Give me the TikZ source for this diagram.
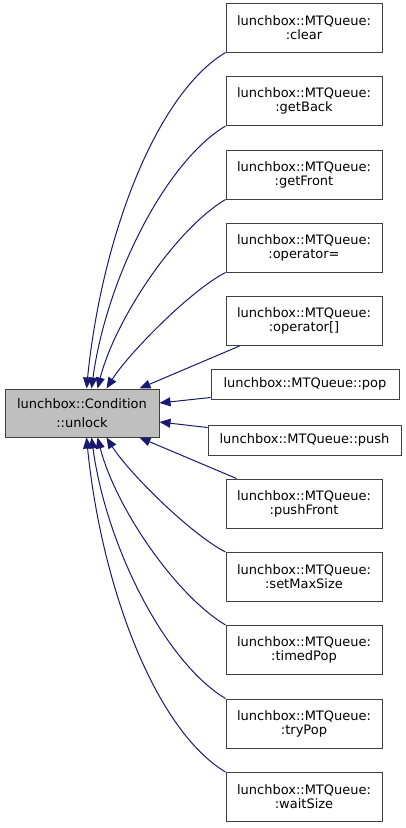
\documentclass[tikz,border=0pt]{standalone}
\usepackage{fontspec}
\setmainfont{DejaVu Sans}
\usetikzlibrary{arrows.meta}
\definecolor{EdgeBlue}{HTML}{191970}
\definecolor{NodeGray}{HTML}{BFBFBF}
\definecolor{LineGray}{HTML}{404040}

\begin{document}
\begin{tikzpicture}[x=1pt, y=1pt,
        fn/.style={draw=LineGray, line width=1pt, fill=white, align=center,
                   font=\fontsize{13}{14}\selectfont, inner sep=0pt,
                   minimum width=156pt, minimum height=49pt},
        fnone/.style={fn, minimum height=30pt},
        cur/.style={fn, fill=NodeGray, minimum width=154pt, minimum height=48pt,
                    font=\fontsize{13}{19}\selectfont},
        e/.style={EdgeBlue, line width=1pt, -{Triangle[length=11pt, width=9pt]}},
      ]
        \useasboundingbox (0,0) rectangle (405,-828);
        \node[cur] (cond) at (82,-413) {lunchbox::Condition\\::unlock};
        % callers
        \node[fn] (clear)   at (304,-27.5) {lunchbox::MTQueue:\\:clear};
        \node[fn] (getback) at (304,-101)  {lunchbox::MTQueue:\\:getBack};
        \node[fn] (getfront) at (304,-174.5) {lunchbox::MTQueue:\\:getFront};
        \node[fn] (opeq)    at (304,-247.5) {lunchbox::MTQueue:\\:operator=};
        \node[fn] (opidx)   at (304,-321)  {lunchbox::MTQueue:\\:operator[]};
        \node[fnone, minimum width=188pt] (pop)  at (305,-384)   {lunchbox::MTQueue::pop};
        \node[fnone, minimum width=193pt] (push) at (304.5,-440) {lunchbox::MTQueue::push};
        \node[fn] (pushfront) at (304,-503.5) {lunchbox::MTQueue:\\:pushFront};
        \node[fn] (setmax)  at (304,-577)  {lunchbox::MTQueue:\\:setMaxSize};
        \node[fn] (timedpop) at (304,-650) {lunchbox::MTQueue:\\:timedPop};
        \node[fn] (trypop)  at (304,-723.5) {lunchbox::MTQueue:\\:tryPop};
        \node[fn] (waitsize) at (304,-797) {lunchbox::MTQueue:\\:waitSize};
        % edges into the top
        \draw[e] (clear.south west) .. controls +(-70,-42) and +(15,150) .. ([xshift=82pt]cond.north west);
        \draw[e] (getback.south west) .. controls +(-60,-36) and +(15,110) .. ([xshift=87pt]cond.north west);
        \draw[e] (getfront.south west) .. controls +(-50,-30) and +(18,70) .. ([xshift=93pt]cond.north west);
        \draw[e] (opeq.south west) .. controls +(-35,-18) and +(22,35) .. ([xshift=102pt]cond.north west);
        \draw[e] ([xshift=14pt]opidx.south west) -- ([xshift=135pt]cond.north west);
        % edges into the side
        \draw[e] ([yshift=2pt]pop.south west) -- ([yshift=10pt]cond.east);
        \draw[e] ([yshift=-3pt]push.north west) -- ([yshift=-9pt]cond.east);
        % edges into the bottom
        \draw[e] ([xshift=11pt]pushfront.north west) -- ([xshift=135pt]cond.south west);
        \draw[e] (setmax.north west) .. controls +(-35,18) and +(22,-35) .. ([xshift=102pt]cond.south west);
        \draw[e] (timedpop.north west) .. controls +(-50,30) and +(18,-70) .. ([xshift=93pt]cond.south west);
        \draw[e] (trypop.north west) .. controls +(-60,36) and +(15,-110) .. ([xshift=87pt]cond.south west);
        \draw[e] (waitsize.north west) .. controls +(-70,42) and +(15,-150) .. ([xshift=82pt]cond.south west);
      \end{tikzpicture}
\end{document}
